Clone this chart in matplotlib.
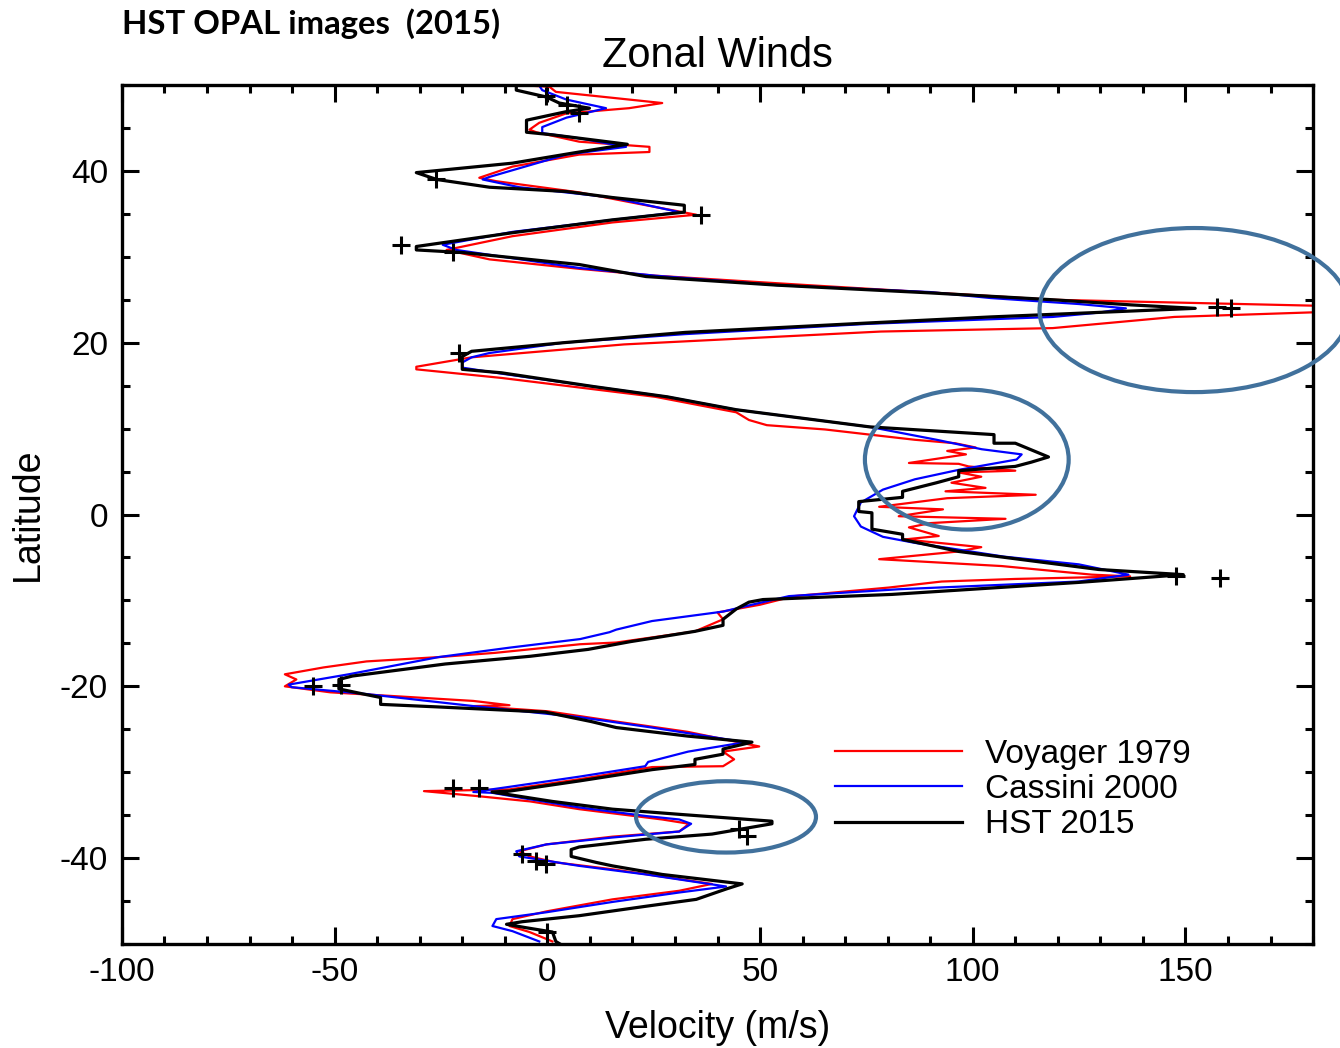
import matplotlib.pyplot as plt
from matplotlib.patches import Ellipse

plt.rcParams['font.family'] = ['Liberation Sans', 'DejaVu Sans']
plt.rcParams['axes.unicode_minus'] = False

# Voyager 1979 profile: latitude (deg), zonal velocity (m/s)
voy_lat = [50.0, 49.8, 49.2, 47.9, 47.3, 46.7, 45.6, 44.8, 44.5, 43.4, 42.8, 42.2, 41.9,
           40.5, 39.2, 38.8, 37.5, 36.0, 34.9, 34.0, 32.4, 30.8, 29.7, 28.6, 27.8, 26.7,
           25.0, 24.2, 23.7, 23.0, 21.7, 21.3, 19.8, 18.3, 17.2, 16.9, 15.9, 13.7, 11.9,
           11.0, 10.4, 9.9, 9.3, 8.7, 8.3, 7.8, 7.4, 7.0, 6.0, 5.9, 5.6, 5.1, 4.9, 4.4,
           3.7, 3.1, 2.7, 2.3, 1.9, 0.9, 0.6, -0.2, -0.5, -1.0, -1.5, -2.5, -2.9, -3.8,
           -4.3, -5.2, -6.0, -7.0, -7.2, -7.5, -7.8, -8.5, -9.5, -10.5, -11.4, -12.2,
           -13.6, -14.9, -15.1, -16.1, -16.6, -17.1, -17.8, -18.6, -19.2, -20.0, -20.7,
           -21.2, -21.7, -22.2, -22.3, -22.9, -24.1, -25.3, -27.0, -27.6, -28.5, -29.3,
           -29.4, -30.8, -32.0, -32.2, -32.8, -33.4, -34.3, -35.5, -36.0, -36.9, -37.5,
           -38.4, -39.2, -39.8, -40.5, -41.3, -43.0, -43.8, -44.8, -46.2, -47.1, -47.9,
           -48.6, -49.7]
voy_vel = [-7.3, 0.5, 2.0, 27.0, 19.2, 4.5, -1.9, -4.2, -2.6, 7.5, 24.0, 24.0, 7.5,
           -8.2, -16.0, -12.0, 7.5, 23.2, 35.0, 15.3, -8.2, -23.7, -13.6, 7.5, 25.4, 61.3,
           118.8, 190.0, 190.0, 147.4, 118.8, 78.4, 18.0, -17.8, -30.8, -30.8, -10.8, 25.4, 44.4,
           47.4, 51.6, 65.3, 75.8, 86.4, 95.8, 100.7, 94.0, 98.4, 85.0, 96.7, 99.0, 110.0, 96.7, 102.0,
           95.0, 103.0, 93.6, 114.8, 94.0, 78.0, 93.0, 82.6, 107.7, 90.0, 85.0, 92.0, 84.0, 102.0,
           96.7, 78.0, 106.8, 128.0, 137.0, 110.0, 92.7, 80.3, 58.0, 50.0, 40.0, 41.3,
           34.7, 16.2, 7.7, -12.2, -25.6, -42.5, -52.6, -61.7, -59.0, -61.7, -51.0,
           -34.0, -17.4, -8.9, -17.4, 0.0, 16.2, 33.0, 49.8, 41.3, 43.9, 41.3,
           24.6, 7.7, -8.9, -29.0, -16.0, -4.0, 7.5, 27.0, 33.3, 31.0, 15.3,
           -0.2, -6.6, -4.2, 2.0, 15.3, 38.7, 31.0, 15.3, -0.2, -8.2, -8.9,
           -4.2, 1.2]

# Cassini 2000 profile
cas_lat = [50.0, 49.4, 48.3, 47.3, 46.2, 45.1, 44.4, 43.8, 42.8, 41.9, 39.3, 39.0, 38.1,
           36.9, 35.2, 34.3, 32.9, 31.4, 30.8, 28.7, 27.8, 26.7, 25.9, 25.2, 24.5, 24.0,
           23.5, 23.0, 22.2, 21.0, 20.0, 18.8, 18.3, 17.7, 17.1, 16.4, 14.9, 13.7, 12.2,
           10.2, 8.7, 7.6, 7.0, 6.4, 5.2, 4.1, 2.9, 1.4, -0.2, -1.4, -2.6, -3.3, -4.9,
           -5.8, -7.0, -7.8, -8.7, -9.5, -10.5, -11.3, -12.4, -13.4, -13.7, -14.5, -15.5,
           -16.6, -18.6, -19.8, -20.1, -20.9, -22.3, -23.6, -24.8, -26.5, -27.6, -28.8,
           -29.3, -30.5, -31.7, -32.3, -32.4, -33.0, -34.1, -35.1, -35.5, -36.0, -36.9,
           -37.6, -38.4, -39.2, -39.8, -40.9, -41.9, -43.3, -44.0, -45.1, -46.3, -47.1,
           -47.9, -48.5, -49.7]
cas_vel = [-2.0, -1.2, 4.5, 13.8, 4.5, -1.2, -1.2, 7.5, 18.5, 4.5, -13.6, -15.2, -6.6,
           15.3, 31.0, 15.3, -8.2, -24.6, -21.4, 7.5, 25.4, 54.0, 89.9, 104.2, 125.0, 136.0,
           129.6, 118.8, 75.6, 32.4, 3.8, -13.6, -17.8, -20.0, -20.0, -10.8, 10.8, 28.2, 44.4,
           75.8, 91.5, 102.1, 111.5, 110.3, 96.7, 86.4, 78.9, 73.7, 72.1, 73.7, 78.9, 86.4, 107.3,
           124.9, 136.6, 124.9, 82.6, 56.8, 48.1, 41.3, 24.6, 16.2, 14.6, 7.7, -8.9,
           -25.6, -46.7, -60.8, -60.1, -42.5, -17.4, 7.7, 24.6, 46.5, 33.1, 23.7,
           23.0, 7.7, -8.9, -17.4, -12.9, -5.9, 7.5, 23.2, 31.0, 33.8, 31.0,
           15.3, -0.2, -7.3, -6.6, 7.5, 23.2, 42.0, 31.0, 15.3, -0.2, -12.0,
           -12.9, -8.2, -1.9]

# HST 2015 (OPAL) profile
hst_lat = [50.0, 49.4, 48.6, 47.9, 47.3, 46.9, 45.9, 44.5, 44.2, 43.1, 42.2, 40.9, 39.8,
           39.0, 38.1, 37.6, 36.9, 36.0, 35.2, 34.3, 32.8, 31.2, 30.8, 30.5, 29.1, 27.7,
           26.7, 25.8, 25.0, 24.4, 24.0, 23.6, 23.0, 22.3, 21.2, 20.0, 19.0, 18.4, 16.9,
           16.5, 14.9, 13.7, 12.2, 10.2, 9.3, 8.3, 8.3, 6.7, 6.1, 5.6, 5.1, 4.4, 3.7, 2.7,
           2.0, 1.5, 0.35, 0.2, -1.7, -2.3, -2.9, -4.3, -6.4, -7.0, -7.9, -9.3, -9.9,
           -10.2, -11.0, -12.2, -12.9, -13.6, -14.2, -14.8, -15.7, -16.5, -17.4, -18.8,
           -19.2, -20.3, -20.9, -21.3, -22.1, -22.4, -23.0, -24.1, -24.8, -25.8, -26.5,
           -27.3, -27.9, -28.5, -29.1, -29.7, -31.0, -32.2, -32.3, -33.4, -34.3, -34.9,
           -35.7, -36.0, -37.2, -37.8, -38.7, -39.0, -39.8, -40.5, -40.9, -41.9, -43.0,
           -43.6, -44.8, -45.6, -46.7, -47.4, -47.7, -48.1, -48.6, -49.7, -50.0]
hst_vel = [-7.3, -7.3, -0.2, 2.8, 9.9, 4.5, -4.9, -4.9, 1.2, 18.8, 7.5, -8.2, -30.8,
           -26.0, -13.6, 4.5, 15.3, 32.2, 32.2, 15.3, -8.2, -30.8, -30.8, -20.0, 7.5, 23.2,
           54.0, 89.9, 118.8, 137.3, 152.3, 133.1, 104.2, 75.6, 32.4, 3.8, -17.8, -20.0, -20.0,
           -10.8, 10.8, 28.2, 44.4, 75.8, 105.0, 105.0, 110.0, 117.8, 113.8, 110.0, 96.7, 96.7, 91.5, 83.5,
           83.5, 73.2, 73.2, 76.3, 76.3, 83.5, 83.5, 96.7, 129.6, 149.5, 125.0, 81.0, 50.7,
           47.4, 44.4, 41.3, 41.3, 34.7, 27.2, 19.5, 9.6, -4.0, -24.0, -45.8,
           -49.0, -49.0, -43.2, -39.2, -39.2, -25.6, -0.5, 10.3, 16.2, 33.1, 48.1,
           41.3, 41.3, 34.7, 34.7, 24.6, 7.7, -8.9, -13.0, 1.2, 15.3, 31.0,
           52.8, 52.8, 38.7, 23.2, 7.5, 5.6, 5.6, 11.5, 15.3, 27.0, 45.8,
           42.0, 35.0, 23.2, 7.5, -5.9, -9.6, -5.0, 1.2, 2.0, 3.0]

# individual HST feature measurements
pt_lat = [48.7, 47.7, 46.7, 39.0, 34.9, 31.4, 30.6, 24.1, 24.0, 18.8, -7.2, -7.4,
          -20.0, -19.8, -31.8, -31.8, -36.6, -37.4, -39.5, -40.3, -40.7, -48.6]
pt_vel = [-0.2, 4.7, 7.5, -26.1, 36.2, -34.3, -22.1, 157.5, 160.6, -20.7, 147.7, 158.2,
          -55.0, -48.4, -22.2, -16.0, 45.0, 47.0, -5.9, -2.6, -0.2, 0.0]

# highlighted regions: (velocity, latitude, width, height)
rings = [(152.1, 23.8, 72.8, 19.1),
         (98.6, 6.4, 47.9, 16.3),
         (42.0, -35.2, 42.3, 8.3)]

fig = plt.figure(figsize=(13.4, 10.48), dpi=100)
ax = fig.add_axes([0.091, 0.0992, 0.8889, 0.8197])

ax.plot(voy_vel, voy_lat, color='#ff0000', lw=1.6, label='Voyager 1979')
ax.plot(cas_vel, cas_lat, color='#0000ff', lw=1.6, label='Cassini 2000')
ax.plot(hst_vel, hst_lat, color='black', lw=2.3, label='HST 2015')
ax.plot(pt_vel, pt_lat, '+', color='black', ms=13, mew=2.2)

for cx, cy, w, h in rings:
    ax.add_patch(Ellipse((cx, cy), w, h, fill=False, edgecolor='#41719c',
                         lw=3.0, clip_on=False, zorder=5))

ax.set_xlim(-100, 180)
ax.set_ylim(-50, 50)
ax.set_xticks([-100, -50, 0, 50, 100, 150])
ax.set_xticks(range(-100, 181, 10), minor=True)
ax.set_yticks([-40, -20, 0, 20, 40])
ax.set_yticks(range(-50, 51, 5), minor=True)
ax.tick_params(which='both', direction='in', top=True, right=True, width=2.2, labelsize=24)
ax.tick_params(which='major', length=12)
ax.tick_params(which='minor', length=6)
ax.tick_params(axis='x', pad=9)
ax.tick_params(axis='y', pad=10)
for s in ax.spines.values():
    s.set_linewidth(2.4)

ax.set_xlabel('Velocity (m/s)', fontsize=27, labelpad=16)
ax.set_ylabel('Latitude', fontsize=27, labelpad=10)
ax.set_title('Zonal Winds', fontsize=30, pad=13)

ax.legend(loc='upper left', bbox_to_anchor=(0.599, 0.239), frameon=False, fontsize=24,
          handlelength=3.8, handletextpad=0.7, labelspacing=0.13, borderpad=0, borderaxespad=0)

fig.text(122 / 1340, 1 - 24 / 1048, 'HST OPAL images  (2015)', fontsize=23.7,
         fontweight='bold', family=['Lato', 'DejaVu Sans'], ha='left', va='center')

fig.savefig('out.png', dpi=100)
